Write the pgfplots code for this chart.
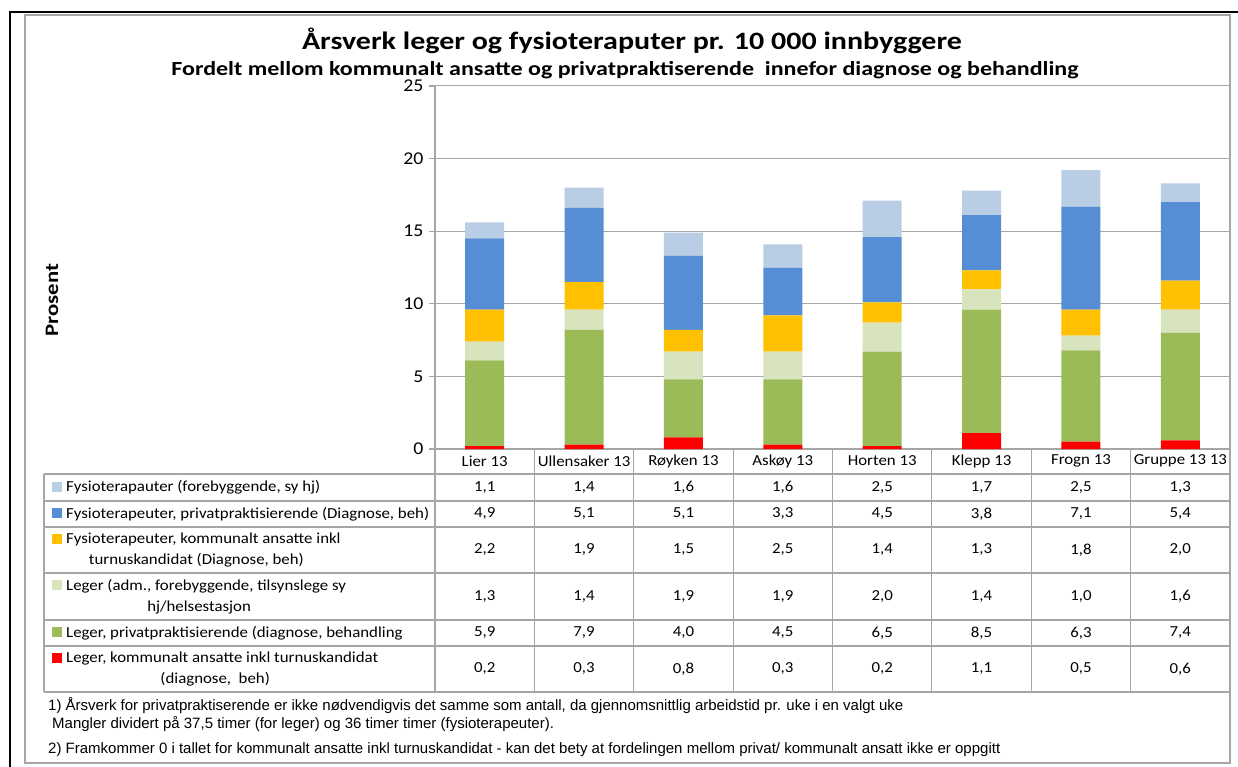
\documentclass[border=0pt]{standalone}
\usepackage{pgfplots}
\pgfplotsset{compat=1.18}
\usepackage{pgfplotstable}
\usepackage{fontspec}
\setmainfont{Carlito}[FakeStretch=1.1]
\newfontfamily\titlefont{Carlito}[FakeStretch=1.2]
\newfontfamily\notefont{Liberation Sans}
\definecolor{cRed}{HTML}{FF0000}
\definecolor{cGreen}{HTML}{9BBB59}
\definecolor{cLGreen}{HTML}{D7E4BD}
\definecolor{cOrange}{HTML}{FFC000}
\definecolor{cBlue}{HTML}{558ED5}
\definecolor{cLBlue}{HTML}{B9CDE5}
\definecolor{lineGray}{HTML}{A6A6A6}
\newcommand\mk[1]{\textcolor{#1}{\rule{10pt}{10pt}}\hspace{4pt}}

\pgfplotstableread{
x red green lgreen orange blue lblue
0 0.2 5.9 1.3 2.2 4.9 1.1
1 0.3 7.9 1.4 1.9 5.1 1.4
2 0.8 4.0 1.9 1.5 5.1 1.6
3 0.3 4.5 1.9 2.5 3.3 1.6
4 0.2 6.5 2.0 1.4 4.5 2.5
5 1.1 8.5 1.4 1.3 3.8 1.7
6 0.5 6.3 1.0 1.8 7.1 2.5
7 0.6 7.4 1.6 2.0 5.4 1.3
}\datatable

\begin{document}
\begin{tikzpicture}
\useasboundingbox (0,0) rectangle (1238pt,-767pt);
% frames
\draw[line width=2.5pt] (10pt,-767pt) -- (10pt,-12pt) -- (1238pt,-12pt);
\draw[lineGray, line width=1.2pt] (25pt,-15pt) rectangle (1230pt,-763pt);
% titles
\node[font=\titlefont\bfseries\fontsize{25}{29}\selectfont] at (632pt,-41pt) {Årsverk leger og fysioteraputer pr. 10 000 innbyggere};
\node[font=\titlefont\bfseries\fontsize{20}{24}\selectfont] at (625pt,-70pt) {Fordelt mellom kommunalt ansatte og privatpraktiserende\ \ innefor diagnose og behandling};
\node[rotate=90, font=\titlefont\bfseries\fontsize{19}{22}\selectfont] at (52pt,-300pt) {Prosent};

\begin{axis}[
  at={(435pt,-449pt)}, anchor=south west,
  scale only axis, width=795pt, height=363pt,
  xmin=-0.5, xmax=7.5, ymin=0, ymax=25,
  ybar stacked, bar width=39pt,
  axis x line=bottom, axis y line=left,
  axis line style={-, lineGray, line width=1.2pt},
  xtick=\empty,
  ytick={0,5,10,15,20,25},
  tick align=outside, major tick length=6pt,
  tick style={lineGray, line width=1.2pt},
  yticklabel style={/pgf/number format/assume math mode=true, font=\fontsize{18}{20}\selectfont, xshift=-2pt},
  ymajorgrids, major grid style={lineGray, line width=1pt},
]
\addplot[fill=cRed, draw=none] table[x=x, y=red] {\datatable};
\addplot[fill=cGreen, draw=none] table[x=x, y=green] {\datatable};
\addplot[fill=cLGreen, draw=none] table[x=x, y=lgreen] {\datatable};
\addplot[fill=cOrange, draw=none] table[x=x, y=orange] {\datatable};
\addplot[fill=cBlue, draw=none] table[x=x, y=blue] {\datatable};
\addplot[fill=cLBlue, draw=none] table[x=x, y=lblue] {\datatable};
\end{axis}

% table grid
\foreach \y in {474,501,527,573,620,646,692}
  \draw[lineGray, line width=1.2pt] (44pt,{-\y*1pt}) -- (1230pt,{-\y*1pt});
\draw[lineGray, line width=1.2pt] (44pt,-474pt) -- (44pt,-692pt);
\foreach \k in {0,...,8}
  \draw[lineGray, line width=1.2pt] ({(435+\k*99.375)*1pt},-449pt) -- ({(435+\k*99.375)*1pt},-692pt);

% category labels
\foreach \name [count=\i from 0] in {Lier 13, Ullensaker 13, Røyken 13, Askøy 13, Horten 13, Klepp 13, Frogn 13, Gruppe 13 13}
  \node[font=\fontsize{15.3}{18}\selectfont] at ({(484.7+\i*99.375)*1pt},-461pt) {\name};

% values
\foreach \col/\yc in {lblue/487.5, blue/514, orange/550, lgreen/596.5, green/633, red/669} {
  \foreach \i in {0,...,7} {
    \pgfplotstablegetelem{\i}{\col}\of\datatable
    \node[font=\fontsize{15.3}{18}\selectfont] at ({(484.7+\i*99.375)*1pt},{-\yc*1pt}) {\pgfmathprintnumber[fixed, fixed zerofill, precision=1, use comma, assume math mode=true]{\pgfplotsretval}};
  }
}

% legend cells
\begin{scope}[every node/.style={anchor=west, align=center, inner sep=0pt, font=\fontsize{15.3}{21}\selectfont}]
\node at (52pt,-487.5pt) {\mk{cLBlue}Fysioterapauter (forebyggende, sy hj)};
\node at (52pt,-514pt) {\mk{cBlue}Fysioterapeuter, privatpraktisierende (Diagnose, beh)};
\node at (52pt,-550pt) {\mk{cOrange}Fysioterapeuter, kommunalt ansatte inkl\\turnuskandidat (Diagnose, beh)};
\node at (52pt,-596.5pt) {\mk{cLGreen}Leger (adm., forebyggende, tilsynslege sy\\hj/helsestasjon};
\node at (52pt,-633pt) {\mk{cGreen}Leger, privatpraktisierende (diagnose, behandling};
\node at (52pt,-669pt) {\mk{cRed}Leger, kommunalt ansatte inkl turnuskandidat\\(diagnose,\ \ beh)};
\end{scope}

% footnotes
\begin{scope}[every node/.style={anchor=base west, inner sep=0pt, font=\notefont\fontsize{15}{18}\selectfont}]
\node at (48pt,-710pt) {1) Årsverk for privatpraktiserende er ikke nødvendigvis det samme som antall, da gjennomsnittlig arbeidstid pr. uke i en valgt uke};
\node at (52pt,-728pt) {Mangler dividert på 37,5 timer (for leger) og 36 timer timer (fysioterapeuter).};
\node at (48pt,-753pt) {2) Framkommer 0 i tallet for kommunalt ansatte inkl turnuskandidat - kan det bety at fordelingen mellom privat/ kommunalt ansatt ikke er oppgitt};
\end{scope}
\end{tikzpicture}
\end{document}
